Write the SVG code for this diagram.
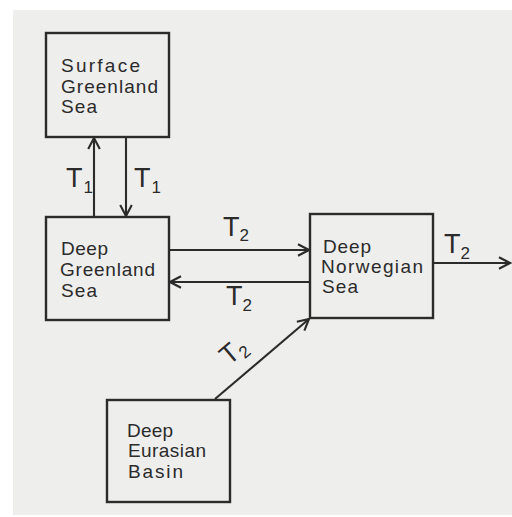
<svg xmlns="http://www.w3.org/2000/svg" width="512" height="517" viewBox="0 0 512 517">
  <style>
    .box { fill: none; stroke: #2b2b2b; stroke-width: 2.4; }
    .lbl { font-family: "Liberation Sans", Arial, sans-serif; font-size: 19px; fill: #2b2b2b; }
    .t { font-family: "Liberation Sans", Arial, sans-serif; font-size: 27px; fill: #2b2b2b; }
    .sub { font-size: 17px; }
    .flow { fill: none; stroke: #2b2b2b; stroke-width: 2.1; marker-end: url(#head); }
  </style>
  <defs>
    <marker id="head" markerUnits="userSpaceOnUse" markerWidth="14" markerHeight="14" viewBox="0 0 14 14" refX="12" refY="7" orient="auto">
      <path d="M1,1.2 L12,7 L1,12.8" fill="none" stroke="#2b2b2b" stroke-width="2.1"/>
    </marker>
  </defs>

  <!-- paper -->
  <rect x="0" y="0" width="512" height="517" fill="#ffffff"/>
  <rect x="13" y="10" width="499" height="505" fill="#eeeeec"/>

  <g id="surface-greenland-sea">
    <rect class="box" x="46" y="33" width="123" height="104"/>
    <text class="lbl" x="61" y="72" textLength="79" lengthAdjust="spacing">Surface</text>
    <text class="lbl" x="61" y="93" textLength="97" lengthAdjust="spacing">Greenland</text>
    <text class="lbl" x="61" y="113" textLength="36" lengthAdjust="spacing">Sea</text>
  </g>

  <g id="deep-greenland-sea">
    <rect class="box" x="46" y="217" width="123" height="103"/>
    <text class="lbl" x="61" y="255" textLength="47" lengthAdjust="spacing">Deep</text>
    <text class="lbl" x="60" y="276" textLength="95" lengthAdjust="spacing">Greenland</text>
    <text class="lbl" x="61" y="297" textLength="36" lengthAdjust="spacing">Sea</text>
  </g>

  <g id="deep-norwegian-sea">
    <rect class="box" x="310" y="214" width="123" height="104"/>
    <text class="lbl" x="323" y="253" textLength="48" lengthAdjust="spacing">Deep</text>
    <text class="lbl" x="321" y="273" textLength="102" lengthAdjust="spacing">Norwegian</text>
    <text class="lbl" x="322" y="293" textLength="36" lengthAdjust="spacing">Sea</text>
  </g>

  <g id="deep-eurasian-basin">
    <rect class="box" x="107" y="400" width="123" height="102"/>
    <text class="lbl" x="127" y="437" textLength="46" lengthAdjust="spacing">Deep</text>
    <text class="lbl" x="128" y="457" textLength="78" lengthAdjust="spacing">Eurasian</text>
    <text class="lbl" x="128" y="478" textLength="55" lengthAdjust="spacing">Basin</text>
  </g>

  <g id="connectors">
    <line class="flow" x1="94" y1="217" x2="94" y2="138"/>
    <line class="flow" x1="126" y1="137" x2="126" y2="216"/>
    <line class="flow" x1="169" y1="250" x2="309" y2="250"/>
    <line class="flow" x1="310" y1="282" x2="170" y2="282"/>
    <line class="flow" x1="433" y1="263" x2="510" y2="263"/>
    <line class="flow" x1="215" y1="399" x2="309" y2="319"/>

    <text class="t" x="66" y="187">T<tspan class="sub" dx="1" dy="6">1</tspan></text>
    <text class="t" x="134" y="187">T<tspan class="sub" dx="1" dy="6">1</tspan></text>
    <text class="t" x="223" y="236">T<tspan class="sub" dx="0" dy="5">2</tspan></text>
    <text class="t" x="226" y="305">T<tspan class="sub" dx="0" dy="6">2</tspan></text>
    <text class="t" x="444" y="253">T<tspan class="sub" dx="0" dy="6">2</tspan></text>
    <text class="t" transform="translate(229 366) rotate(-40)">T<tspan class="sub" dx="0" dy="5">2</tspan></text>
  </g>
</svg>
